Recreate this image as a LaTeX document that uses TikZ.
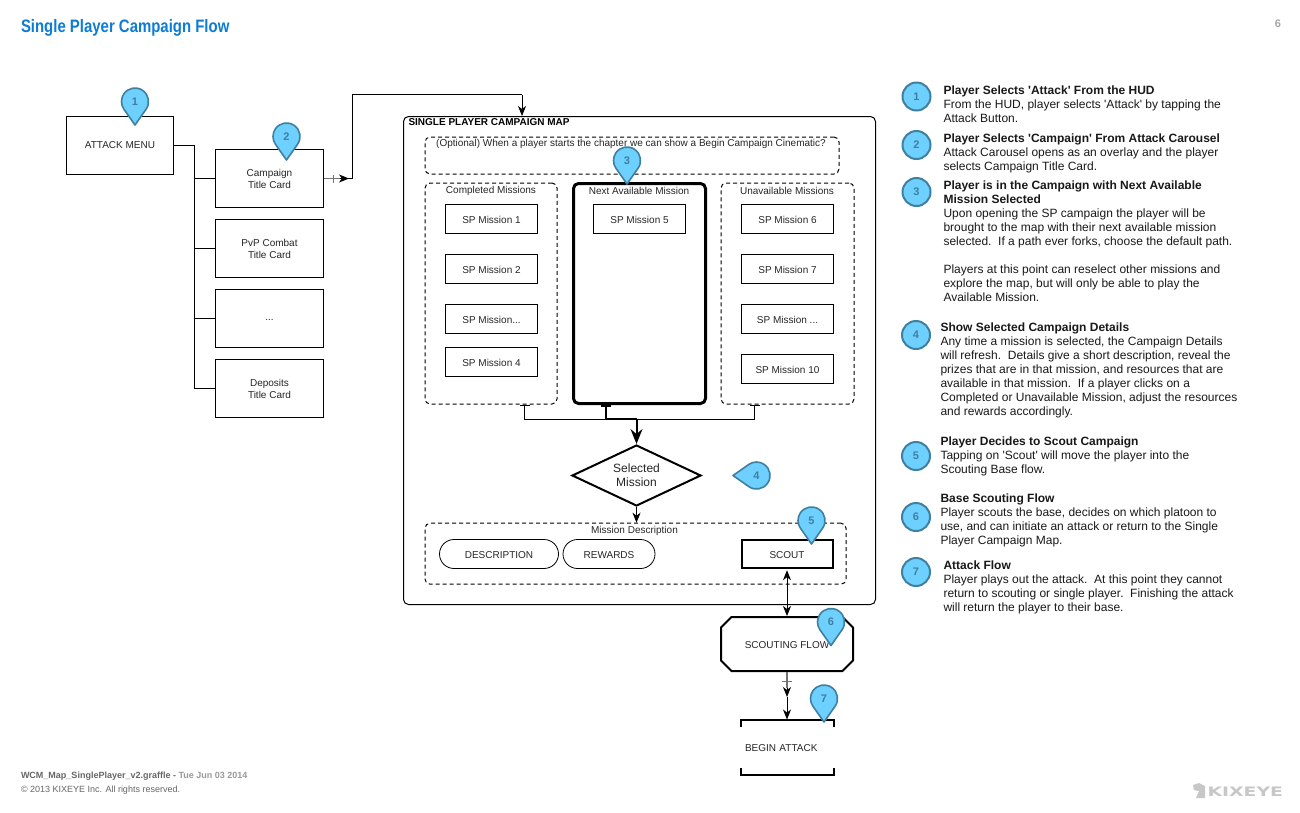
\documentclass[tikz,border=0pt]{standalone}
\usepackage{fontspec}
\setmainfont{Liberation Sans}
\newfontfamily\legendfont{Liberation Sans}
\newfontfamily\titlefont[FakeStretch=0.83]{Liberation Sans}
\newfontfamily\logofont[FakeStretch=1.45]{DejaVu Sans}
\usetikzlibrary{arrows.meta,shapes.geometric,shapes.misc}
\definecolor{markfill}{HTML}{6DD0FF}
\definecolor{markline}{HTML}{3F7F9F}
\definecolor{marktext}{HTML}{3F7F9F}
\definecolor{titleblue}{HTML}{0C7DD6}
\tikzset{
  small/.style={font=\fontsize{10}{12}\selectfont,text=black!85,inner sep=0pt,align=center},
  oneline/.style={small,text height=9pt,text depth=0pt},
  card/.style={small,draw,line width=1pt,minimum width=108pt,minimum height=58pt},
  mission/.style={oneline,draw,line width=1pt,minimum width=92pt,minimum height=29pt},
  dashbox/.style={draw,line width=1pt,dash pattern=on 4pt off 3pt,rounded corners=5pt},
  legendmark/.style={circle,draw=markline,line width=2pt,fill=markfill,minimum size=28pt,inner sep=0pt,
    text=marktext,font=\fontsize{11}{12}\selectfont\bfseries},
  legendtext/.style={anchor=north west,align=left,inner sep=0pt,text=black!90,font=\legendfont\fontsize{12}{14}\selectfont},
  graytick/.style={draw=black!55,line width=1.5pt},
  markpin/.pic={
    \draw[draw=markline,line width=1.6pt,fill=markfill,line join=round]
      (0,23.5) -- (35:13.5) arc[start angle=35,end angle=-215,radius=13.5] -- cycle;
    \node[text=marktext,font=\fontsize{11}{12}\selectfont\bfseries,inner sep=0pt] (-num) at (0,0) {#1};
  },
}
\begin{document}
\begin{tikzpicture}[x=1pt,y=-1pt,>={Stealth[length=10pt,width=8pt,inset=3pt]},line width=1pt]
   \useasboundingbox[fill=white] (0,0) rectangle (1300,812);
   % header and footer
   \node[anchor=west,inner sep=0pt,text=titleblue,font=\titlefont\fontsize{18}{20}\selectfont\bfseries] (title) at (20.5,27.5) {Single Player Campaign Flow};
   \node[inner sep=0pt,text=black!35,font=\fontsize{11}{12}\selectfont\bfseries] (pagenum) at (1278,24) {6};
   \node[anchor=west,inner sep=0pt,font=\fontsize{9}{10}\selectfont\bfseries,text=black!60] (fname) at (20.5,776) {WCM\_Map\_SinglePlayer\_v2.graffle - \textcolor{black!40}{Tue Jun 03 2014}};
   \node[anchor=west,inner sep=0pt,font=\fontsize{9}{10}\selectfont,text=black!60] (copy) at (20.5,790) {© 2013 KIXEYE Inc. All rights reserved.};
   \node[anchor=west,inner sep=0pt,font=\logofont\fontsize{13}{14}\selectfont\bfseries,text=black!22] (logo) at (1207,791.5) {KIXEYE};
   \fill[black!22] (1193,785) -- (1199,783) -- (1205,786) -- (1205,798) -- (1196,798) -- (1199,791) -- (1194,790) -- cycle;

   % left column
   \node[card,minimum width=107pt] (attack) at (120,145.5) {ATTACK MENU};
   \node[card] (campaign) at (269.5,178.5) {Campaign\\Title Card};
   \node[card] (pvp) at (269.5,248.5) {PvP Combat\\Title Card};
   \node[card] (dots) at (269.5,318.5) {\raisebox{-3pt}{...}};
   \node[card] (deposits) at (269.5,388.5) {Deposits\\Title Card};
   \coordinate (trunk) at (194.5,145.5);
   \draw (attack) -- (trunk) |- (campaign);
   \draw (trunk) |- (pvp);
   \draw (trunk) |- (dots);
   \draw (trunk) |- (deposits);

   % campaign map
   \node[draw,rounded corners=5pt,minimum width=472pt,minimum height=488pt,inner sep=0pt] (map) at (639.5,360.5) {};
   \node[anchor=west,inner sep=0pt,font=\fontsize{10}{12}\selectfont\bfseries] (maptitle) at (408,122.5) {SINGLE PLAYER CAMPAIGN MAP};
   \node[dashbox,minimum width=414pt,minimum height=37pt,inner sep=0pt] (optional) at (632,155.5) {};
   \node[small] (optlabel) at (631,143.5) {(Optional) When a player starts the chapter we can show a Begin Campaign Cinematic?};

   \node[dashbox,minimum width=132pt,minimum height=221pt,inner sep=0pt] (completed) at (491,293.5) {};
   \node[draw,line width=3pt,rounded corners=5pt,minimum width=132pt,minimum height=220pt,inner sep=0pt] (next) at (639.5,293.5) {};
   \node[dashbox,minimum width=133pt,minimum height=221pt,inner sep=0pt] (unavail) at (787.5,293.5) {};
   \node[small] (cmpllabel) at (491,190.5) {Completed Missions};
   \node[small] (nextlabel) at (639,190.5) {Next Available Mission};
   \node[small] (unavlabel) at (787,190.5) {Unavailable Missions};

   \node[mission] (sp1) at (491.5,219) {SP Mission 1};
   \node[mission] (sp2) at (491.5,269) {SP Mission 2};
   \node[mission] (sp3) at (491.5,319) {SP Mission...};
   \node[mission] (sp4) at (491.5,362) {SP Mission 4};
   \node[mission] (sp5) at (639.5,219) {SP Mission 5};
   \node[mission] (sp6) at (787.5,219) {SP Mission 6};
   \node[mission] (sp7) at (787.5,269) {SP Mission 7};
   \node[mission] (sp8) at (787.5,319) {SP Mission ...};
   \node[mission] (sp10) at (787.5,369) {SP Mission 10};

   % outlets under the three columns
   \node[diamond,draw,line width=2pt,minimum width=129pt,minimum height=61pt,inner sep=0pt,aspect=2.1,
     font=\fontsize{12}{14}\selectfont,align=center,text=black!85] (selected) at (636.5,475.5) {Selected\\Mission};
   \coordinate (cmplout) at (524.5,405);
   \coordinate (nextout) at (606,405);
   \coordinate (unavout) at (754.5,405);
   \coordinate (joint) at (636.5,419);
   \draw (cmplout) |- (joint);
   \draw (unavout) |- (joint);
   \draw (519.5,405.5) -- (529.5,405.5);
   \draw (749.5,405.5) -- (759.5,405.5);
   \draw[line width=1.8pt] (601,406) -- (611,406);
   \draw[line width=2pt] (nextout) |- (joint);
   \draw[-{Stealth[length=15pt,width=12pt,inset=5pt]},line width=2pt] (joint) -- (selected.north);

   \node[dashbox,minimum width=421pt,minimum height=61pt,inner sep=0pt] (descbox) at (635.5,553.7) {};
   \node[small] (desclabel) at (634.5,531) {Mission Description};
   \draw[->] (selected.south) -- (selected.south |- descbox.north);
   \node[oneline,draw,rounded corners=14.5pt,line width=.8pt,minimum width=119pt,minimum height=29pt] (description) at (499,554) {DESCRIPTION};
   \node[oneline,draw,rounded corners=14.5pt,line width=.8pt,minimum width=92pt,minimum height=29pt] (rewards) at (609,554) {REWARDS};
   \node[oneline,draw,line width=2pt,minimum width=91pt,minimum height=28pt] (scout) at (787,553.7) {SCOUT};

   % below the map
   \node[oneline,draw,chamfered rectangle,chamfered rectangle xsep=6pt,chamfered rectangle ysep=6pt,line width=2pt,
     minimum width=132pt,minimum height=54pt] (scouting) at (787,644) {SCOUTING FLOW};
   \node[oneline,text width=84pt,align=left,inner sep=4pt,minimum width=92pt,minimum height=54pt] (begin) at (787,747) {BEGIN ATTACK};
   \draw[line width=2pt] (begin.north west) ++(0,7) -- (begin.north west) -- (begin.north east) -- ++(0,7);
   \draw[line width=2pt] (begin.south west) ++(0,-7) -- (begin.south west) -- (begin.south east) -- ++(0,-7);
   \draw[<->] (scout.south) ++(0,1.5) -- (scouting.north);
   \coordinate (attackin) at (787,688);
   \coordinate (attackmid) at (787,697);
   \draw[graytick] (scouting.south) -- (attackin);
   \draw[graytick,line width=1pt] (782,681) -- (792,681);
   \draw[->] (attackin) -- (attackmid);
   \draw[->] (attackmid) -- (attackmid |- begin.north);

   % campaign card to map
   \coordinate (bendlow) at (352.5,178.5);
   \coordinate (bendtop) at (352.5,94.5);
   \coordinate (mapin) at (522,94.5);
   \draw[graytick] (campaign.east) -- (342,178.5);
   \draw[graytick,line width=1pt] (333,174.5) -- (333,182.5);
   \draw[->] (340,178.5) -- (349,178.5);
   \draw (345,178.5) -- (bendlow) -- (bendtop) -- (mapin);
   \draw[->] (mapin) -- (mapin |- map.north);

   % numbered pins
   \pic (pina) at (135,101.5) {markpin=1};
   \pic (pinb) at (286.5,136.5) {markpin=2};
   \pic (pinc) at (627,160.5) {markpin=3};
   \pic[rotate=-90] (pind) at (756.5,475.5) {markpin=4};
   \pic (pine) at (811.5,520.5) {markpin=5};
   \pic (pinf) at (831,622) {markpin=6};
   \pic (ping) at (824,698.5) {markpin=7};

   % legend
   \node[legendmark] (leg1) at (916.5,96.5) {1};
   \node[legendmark] (leg2) at (916.5,145) {2};
   \node[legendmark] (leg3) at (916.5,192) {3};
   \node[legendmark] (leg4) at (916,335) {4};
   \node[legendmark] (leg5) at (916,456) {5};
   \node[legendmark] (leg6) at (916,517) {6};
   \node[legendmark] (leg7) at (916,572) {7};
   \node[legendtext] (txt1) at (943,85) {\textbf{Player Selects 'Attack' From the HUD}\\From the HUD, player selects 'Attack' by tapping the\\Attack Button.};
   \node[legendtext] (txt2) at (943,133) {\textbf{Player Selects 'Campaign' From Attack Carousel}\\Attack Carousel opens as an overlay and the player\\selects Campaign Title Card.};
   \node[legendtext] (txt3) at (943,180) {\textbf{Player is in the Campaign with Next Available}\\\textbf{Mission Selected}\\Upon opening the SP campaign the player will be\\brought to the map with their next available mission\\selected.\ \ If a path ever forks, choose the default path.\\[14pt]Players at this point can reselect other missions and\\explore the map, but will only be able to play the\\Available Mission.};
   \node[legendtext] (txt4) at (940,322) {\textbf{Show Selected Campaign Details}\\Any time a mission is selected, the Campaign Details\\will refresh.\ \ Details give a short description, reveal the\\prizes that are in that mission, and resources that are\\available in that mission.\ \ If a player clicks on a\\Completed or Unavailable Mission, adjust the resources\\and rewards accordingly.};
   \node[legendtext] (txt5) at (940,436) {\textbf{Player Decides to Scout Campaign}\\Tapping on 'Scout' will move the player into the\\Scouting Base flow.};
   \node[legendtext] (txt6) at (940,493) {\textbf{Base Scouting Flow}\\Player scouts the base, decides on which platoon to\\use, and can initiate an attack or return to the Single\\Player Campaign Map.};
   \node[legendtext] (txt7) at (943,560) {\textbf{Attack Flow}\\Player plays out the attack.\ \ At this point they cannot\\return to scouting or single player.\ \ Finishing the attack\\will return the player to their base.};
\end{tikzpicture}
\end{document}
